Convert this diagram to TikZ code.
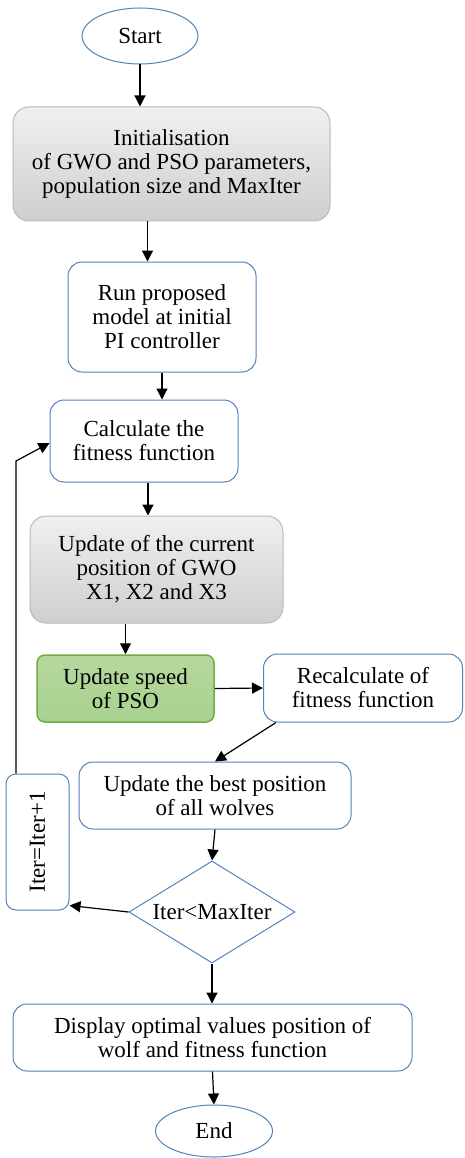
\documentclass[tikz,border=0pt]{standalone}
\usepackage{fontspec}
\setmainfont{Liberation Serif}
\usepackage{tikz}
\usetikzlibrary{shapes.geometric,arrows.meta}
\definecolor{boxblue}{RGB}{84,130,186}
\definecolor{greenfill}{RGB}{169,209,142}
\definecolor{greenline}{RGB}{112,173,71}

\begin{document}
\begin{tikzpicture}[x=1pt,y=-1pt,font=\fontsize{23}{24}\selectfont]
        \tikzstyle{blue box}=[draw=boxblue,line width=1pt,rounded corners=14pt,fill=white,align=center,inner sep=0pt]
        \tikzstyle{gray box}=[draw=gray!55,line width=1pt,rounded corners=16pt,top color=gray!12,bottom color=gray!38,align=center,inner sep=0pt]
        \tikzstyle{green box}=[draw=greenline,line width=1.5pt,rounded corners=8pt,top color=greenfill!85,bottom color=greenfill,align=center,inner sep=0pt]
        \tikzstyle{end node}=[draw=boxblue,line width=1pt,ellipse,fill=white,inner sep=0pt]
        \tikzstyle{arrow}=[-{Triangle[length=11pt,width=11pt]},line width=1.2pt]
        \useasboundingbox (0,0) rectangle (464,1158);

        \node[end node,minimum width=116pt,minimum height=56pt] (Start) at (140,36) {Start};
        \node[gray box,minimum width=317pt,minimum height=114pt] (Init) at (171.5,164) {Initialisation\\of GWO and PSO parameters,\\population size and MaxIter};
        \node[blue box,minimum width=188pt,minimum height=110pt] (Run) at (162,317) {Run proposed\\model at initial\\PI controller};
        \node[blue box,minimum width=188pt,minimum height=82pt] (Fitness) at (144,441) {Calculate the\\fitness function};
        \node[gray box,minimum width=253pt,minimum height=107pt] (GWO) at (156.5,569.5) {Update of the current\\position of GWO\\X1, X2 and X3};
        \node[green box,minimum width=177pt,minimum height=67pt] (PSO) at (125.5,688.5) {Update speed\\of PSO};
        \node[blue box,minimum width=199pt,minimum height=68pt] (Recalc) at (363,688) {Recalculate of\\fitness function};
        \node[blue box,minimum width=272pt,minimum height=67pt] (Best) at (215,795.5) {Update the best position\\of all wolves};
        \node[draw=boxblue,line width=1pt,diamond,aspect=1.63,inner sep=0pt,minimum width=166pt,minimum height=102pt] (Check) at (212,912) {Iter<MaxIter};
        \node[blue box,rounded corners=10pt,minimum width=63pt,minimum height=136pt] (Iter) at (37.5,842) {\rotatebox{90}{Iter=Iter+1}};
        \node[blue box,minimum width=399pt,minimum height=67pt] (Display) at (212.5,1037.5) {Display optimal values position of\\wolf and fitness function};
        \node[end node,minimum width=117pt,minimum height=52pt] (End) at (214,1131) {End};

        \coordinate (Turn) at (16,461);

        \draw[arrow] (Start.south) -- (Start.south |- Init.north);
        \draw[arrow] ([xshift=-24pt]Init.south) -- ([xshift=-24pt]Init.south |- Run.north);
        \draw[arrow] (Run.south) -- (Run.south |- Fitness.north);
        \draw[arrow] ([xshift=4pt]Fitness.south) -- ([xshift=4pt]Fitness.south |- GWO.north);
        \draw[arrow] (PSO.north |- GWO.south) -- (PSO.north);
        \draw[arrow] (PSO.east) -- (Recalc.west);
        \draw[arrow] ([xshift=13pt]Recalc.south west) -- (Best.north);
        \draw[arrow] (Best.south) -- (Check.north);
        \draw[arrow] (Check.west) -- ([yshift=5pt]Iter.south east);
        \draw[arrow] ([xshift=-21.5pt]Iter.north) -- (Turn) -- ([yshift=-2pt]Fitness.west);
        \draw[arrow] (Check.south) -- (Check.south |- Display.north);
        \draw[arrow] (Display.south) -- (End.north);
    \end{tikzpicture}
\end{document}
